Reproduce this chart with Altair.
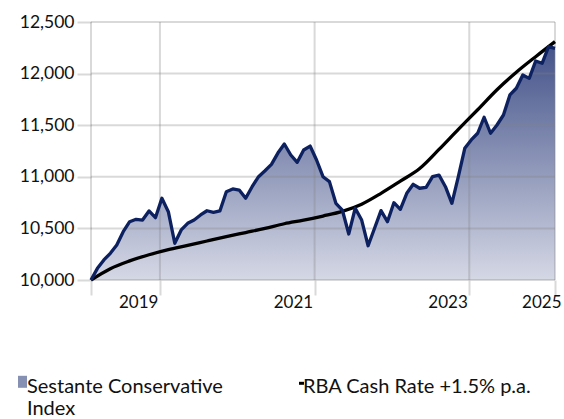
import altair as alt
import pandas as pd

# ---- data ----
months = list(range(73))
sestante = [10000, 10113, 10194, 10259, 10339, 10468, 10565, 10588, 10581, 10669,
            10604, 10792, 10662, 10356, 10485, 10549, 10581, 10630, 10671, 10656,
            10669, 10856, 10882, 10872, 10792, 10904, 11001, 11059, 11120, 11230,
            11318, 11211, 11140, 11260, 11298, 11163, 11001, 10953, 10743, 10678,
            10446, 10695, 10581, 10332, 10501, 10672, 10565, 10749, 10685, 10840,
            10927, 10889, 10898, 11001, 11017, 10904, 10743, 11001, 11276, 11357,
            11422, 11577, 11422, 11502, 11599, 11793, 11858, 11986, 11954, 12122,
            12100, 12261, 12245]

bench_months = list(range(0, 73, 3))
bench_values = [10000, 10110, 10185, 10245, 10295, 10335, 10378, 10420, 10460,
                10500, 10545, 10580, 10620, 10665, 10735, 10840, 10958, 11080,
                11265, 11460, 11650, 11844, 12013, 12164, 12310]

series_names = ["Sestante Conservative Index", "RBA Cash Rate +1.5% p.a."]
legend_label_lines = [["Sestante Conservative", "Index"], ["RBA Cash Rate +1.5% p.a.", ""]]

y_ticks = [10000, 10500, 11000, 11500, 12000, 12500]
x_grid = [0, 10.7, 34.7, 58.7, 72]
x_tick_labels = ["", "2019", "2021", "2023", "2025"]

df_s = pd.DataFrame({"m": months, "value": sestante, "series": series_names[0]})
df_b = pd.DataFrame({"m": bench_months, "value": bench_values, "series": series_names[1]})
df_xg = pd.DataFrame({"pos": x_grid})
df_yg = pd.DataFrame({"pos": y_ticks})

FONT = "Lato"
x_scale = alt.Scale(domain=[0, 72], nice=False, zero=False)
y_scale = alt.Scale(domain=[10000, 12500], nice=False, zero=False)

x_label_expr = " : ".join(
    f"datum.value == {p} ? '{l}'" for p, l in zip(x_grid, x_tick_labels)
) + " : ''"

x_axis = alt.Axis(
    title=None, values=x_grid, labelExpr=x_label_expr, grid=False, domain=False,
    tickColor="#d9d9d9", tickWidth=2, tickSize=15, labelAlign="right",
    labelOffset={"condition": {"test": "datum.value == 72", "value": 6}, "value": -2},
    labelPadding=-1, labelFont=FONT, labelFontSize=17, labelColor="#111111",
    labelOverlap=False, labelFlush=False, labelBound=False,
)
y_axis = alt.Axis(
    title=None, values=y_ticks, labelExpr="format(datum.value, ',')", grid=False, domain=False,
    tickColor="#d9d9d9", tickWidth=2, tickSize=14, labelPadding=3,
    labelFont=FONT, labelFontSize=17.5, labelColor="#111111",
)

def xe(field):
    return alt.X(f"{field}:Q", scale=x_scale, axis=x_axis)

def ye(field):
    return alt.Y(f"{field}:Q", scale=y_scale, axis=y_axis)

area = alt.Chart(df_s).mark_area(
    color=alt.Gradient(
        gradient="linear",
        stops=[alt.GradientStop(color="#d5d8e5", offset=0),
               alt.GradientStop(color="#44538a", offset=1)],
        x1=1, x2=1, y1=1, y2=0,
    )
).encode(x=xe("m"), y=ye("value"), y2=alt.datum(10000))

ygrid = alt.Chart(df_yg).mark_rule(color="#808080", opacity=0.3, strokeWidth=2).encode(y=ye("pos"))
xgrid = alt.Chart(df_xg).mark_rule(color="#808080", opacity=0.3, strokeWidth=2).encode(x=xe("pos"))

bench_line = alt.Chart(df_b).mark_line(color="#000000", strokeWidth=3.3, interpolate="monotone").encode(
    x=xe("m"), y=ye("value"))
ses_line = alt.Chart(df_s).mark_line(color="#0d2160", strokeWidth=3.3, strokeJoin="round").encode(
    x=xe("m"), y=ye("value"))

def arr(lines):
    return "[" + ", ".join(f"'{s}'" for s in lines) + "]"

legend_expr = (f"datum.label == '{series_names[0]}' ? {arr(legend_label_lines[0])} : "
               f"{arr(legend_label_lines[1])}")

leg = alt.Legend(
    title=None, orient="none", legendX=-84, legendY=345, direction="horizontal",
    columns=2, columnPadding=60, labelFont=FONT, labelFontSize=20,
    labelColor="#111111", labelOffset=0, symbolSize=144, labelLimit=400,
    symbolStrokeWidth=0, labelBaseline="top", labelExpr=legend_expr,
)
legend_layer = alt.Chart(pd.concat([df_s, df_b])).mark_point(filled=True, opacity=1).encode(
    x=xe("m"), y=ye("value"),
    color=alt.Color("series:N", scale=alt.Scale(domain=series_names, range=["#8590b3", "#000000"]), legend=leg),
    shape=alt.Shape("series:N", scale=alt.Scale(
        domain=series_names,
        range=["M0.17,-0.2L1.67,-0.2L1.67,1.8L0.17,1.8Z",
               "M1.0,0.8L1.83,0.8L1.83,1.3L1.0,1.3Z"]),
        legend=leg),
).transform_filter("false")

chart = alt.layer(area, ygrid, xgrid, bench_line, ses_line, legend_layer).properties(
    width=464, height=258,
    autosize=alt.AutoSizeParams(type="none"),
    padding={"left": 91, "top": 22, "right": 9, "bottom": 139},
).configure_view(stroke=None)

chart.save("out.html", embed_options={"renderer": "svg", "actions": False})
